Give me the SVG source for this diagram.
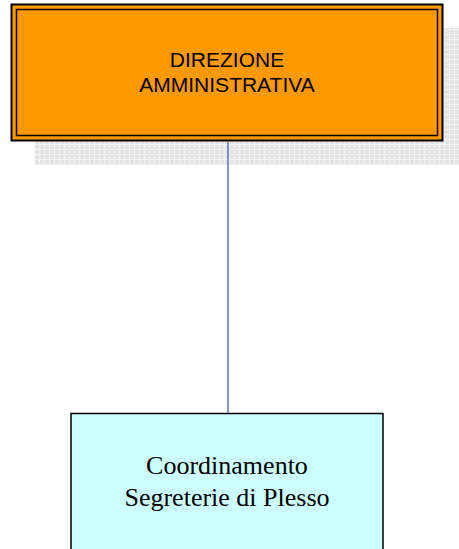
<svg xmlns="http://www.w3.org/2000/svg" width="459" height="549" viewBox="0 0 459 549">
<defs>
<pattern id="grid" width="5" height="5" patternUnits="userSpaceOnUse">
<rect width="5" height="5" fill="#e4e4e4"/>
<path d="M0 4.5H5M4.5 0V5" stroke="#f2f2f2" stroke-width="1"/>
</pattern>
<style>
.t1{font-family:"Liberation Sans",Arial,sans-serif;font-size:21px;fill:#000;text-anchor:middle}
.t2{font-family:"Liberation Serif","Times New Roman",serif;font-size:26px;fill:#000;text-anchor:middle}
</style>
</defs>
<g id="direzione">
<rect x="35" y="28" width="424" height="137" fill="url(#grid)"/>
<rect x="11.5" y="4.5" width="431" height="136" fill="#ff9900" stroke="#000" stroke-width="2"/>
<rect x="16.5" y="9.5" width="421" height="126" fill="none" stroke="#000" stroke-width="1.5"/>
<text class="t1" x="227" y="67">DIREZIONE</text>
<text class="t1" x="227" y="92">AMMINISTRATIVA</text>
</g>
<g id="coordinamento">
<rect x="71" y="413.5" width="312" height="140" fill="#ccffff" stroke="#000" stroke-width="1.5"/>
<text class="t2" x="227" y="474">Coordinamento</text>
<text class="t2" x="227" y="506">Segreterie di Plesso</text>
</g>
<g id="connectors">
<line x1="228" y1="141.5" x2="228" y2="412.8" stroke="#4a6fb5" stroke-width="1.4"/>
</g>
</svg>
